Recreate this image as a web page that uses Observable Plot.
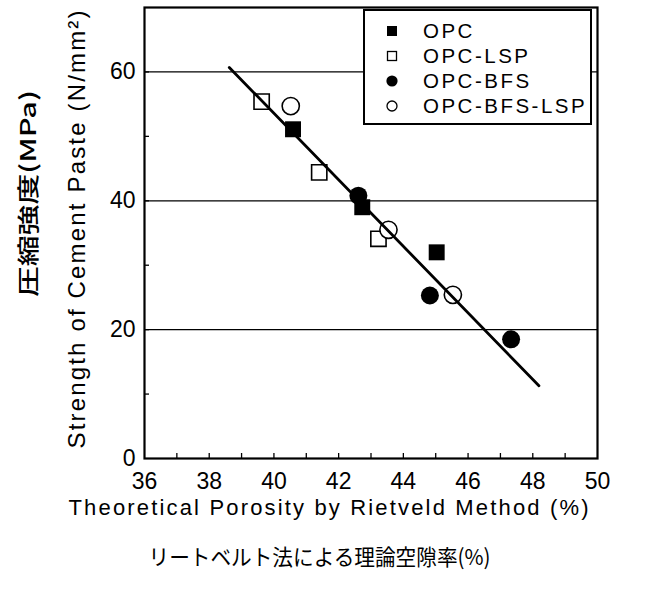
<!DOCTYPE html>
<html><head><meta charset="utf-8">
<script src="https://cdn.jsdelivr.net/npm/d3@7"></script>
<script src="https://cdn.jsdelivr.net/npm/@observablehq/plot@0.6"></script>
<style>
html,body{margin:0;padding:0;background:#fff;}
#chart{position:relative;width:649px;height:590px;}
</style></head><body><div id="chart"></div>
<script>
// ---- data ----
const seriesNames = ["OPC", "OPC-LSP", "OPC-BFS", "OPC-BFS-LSP"];
const opcX = [40.59, 42.73, 45.03];
const opcY = [51.1, 39.0, 32.0];
const lspX = [39.62, 41.40, 43.23];
const lspY = [55.4, 44.4, 34.1];
const bfsX = [42.61, 44.82, 47.33];
const bfsY = [40.8, 25.3, 18.5];
const bfsLspX = [40.52, 43.54, 45.53];
const bfsLspY = [54.7, 35.5, 25.4];
const fitX = [38.62, 48.19];
const fitY = [60.7, 11.3];
const xTickLabels = [36, 38, 40, 42, 44, 46, 48, 50];
const xMinorTicks = [37, 38, 39, 40, 41, 42, 43, 44, 45, 46, 47, 48, 49];
const yTickLabels = [0, 20, 40, 60];
const yMinorTicks = [10, 20, 30, 40, 50, 60];
const gridY = [20, 40, 60];
const xLabelEn = "Theoretical Porosity by Rietveld Method (%)";
const xLabelJa = "リートベルト法による理論空隙率(%)";
const yLabelEn = "Strength of Cement Paste (N/mm²)";
const yLabelJa = "圧縮強度(MPa)";

const rows = (xs, ys, s) => xs.map((x, i) => ({x, y: ys[i], s}));
const opc = rows(opcX, opcY, seriesNames[0]);
const lsp = rows(lspX, lspY, seriesNames[1]);
const bfs = rows(bfsX, bfsY, seriesNames[2]);
const bfsLsp = rows(bfsLspX, bfsLspY, seriesNames[3]);
const fit = rows(fitX, fitY, "fit");

const W = 649, H = 590, ML = 144, MR = 52, MT = 7, MB = 132;
const FW = W - ML - MR, FH = H - MT - MB;
const sans = "'Liberation Sans', Arial, Helvetica, sans-serif";
const cjk = "'Noto Sans CJK JP', 'Noto Sans', sans-serif";

const plot = Plot.plot({
  width: W, height: H,
  marginLeft: ML, marginRight: MR, marginTop: MT, marginBottom: MB,
  style: {fontFamily: sans, color: "black", background: "white", overflow: "visible"},
  x: {domain: [36, 50]},
  y: {domain: [0, 70]},
  marks: [
    Plot.ruleY(gridY, {stroke: "black", strokeWidth: 1.3}),
    Plot.tickX(xMinorTicks, {x: d => d, stroke: "black", strokeWidth: 1.3, insetTop: FH - 5}),
    Plot.tickY(yMinorTicks, {y: d => d, stroke: "black", strokeWidth: 1.3, insetRight: FW - 5}),
    Plot.dot(lsp, {x: "x", y: "y", symbol: "square", r: 8.6, fill: "white", stroke: "black", strokeWidth: 1.6}),
    Plot.dot(bfsLsp, {x: "x", y: "y", symbol: "circle", r: 8.6, fill: "white", stroke: "black", strokeWidth: 1.6}),
    Plot.dot(opc, {x: "x", y: "y", symbol: "square", r: 9, fill: "black", stroke: "none"}),
    Plot.dot(bfs, {x: "x", y: "y", symbol: "circle", r: 9, fill: "black", stroke: "none"}),
    Plot.line(fit, {x: "x", y: "y", stroke: "black", strokeWidth: 2.8}),
    Plot.frame({stroke: "black", strokeWidth: 2.2}),
    Plot.axisX(xTickLabels, {tickSize: 0, tickPadding: 14, fontSize: 23, label: null}),
    Plot.axisY(yTickLabels, {tickSize: 0, tickPadding: 9, fontSize: 23, label: null}),
    Plot.text([xLabelEn], {text: d => d, frameAnchor: "bottom", textAnchor: "middle", dx: -42.5, dy: 56, fontSize: 22, fontFamily: sans}),
    Plot.text([xLabelJa], {text: d => d, frameAnchor: "bottom", textAnchor: "middle", dx: -51.5, dy: 106, fontSize: 22, fontFamily: cjk, fontWeight: 400}),
    Plot.text([yLabelEn], {text: d => d, frameAnchor: "left", textAnchor: "middle", dx: -67, dy: -3.5, rotate: -90, fontSize: 24, fontFamily: sans}),
    Plot.text([yLabelJa], {text: d => d, frameAnchor: "left", textAnchor: "middle", dx: -116, dy: -39.5, rotate: -90, fontSize: 22, fontFamily: cjk, fontWeight: 500})
  ]
});
document.getElementById("chart").appendChild(plot);

// stretch the axis titles to the reference's widths
const svg = d3.select(plot);
const lengths = new Map([
  [xLabelEn, [520, "spacing"]],
  [xLabelJa, [342, "spacingAndGlyphs"]],
  [yLabelEn, [438, "spacing"]],
  [yLabelJa, [207, "spacingAndGlyphs"]]
]);
svg.selectAll("text").each(function () {
  const t = this.textContent;
  if (lengths.has(t)) {
    const [len, mode] = lengths.get(t);
    this.setAttribute("textLength", len);
    this.setAttribute("lengthAdjust", mode);
  }
});

// legend box inside the plot frame
const legendSymbols = [
  {shape: "square", filled: true},
  {shape: "square", filled: false},
  {shape: "circle", filled: true},
  {shape: "circle", filled: false}
];
const lg = svg.append("g").attr("transform", "translate(364,10)");
lg.append("rect").attr("width", 227).attr("height", 114)
  .attr("fill", "white").attr("stroke", "black").attr("stroke-width", 2);
seriesNames.forEach((name, i) => {
  const cy = 21 + i * 25;
  const s = legendSymbols[i];
  if (s.shape === "square") {
    const side = s.filled ? 10 : 9;
    lg.append("rect").attr("x", 28 - side / 2).attr("y", cy - side / 2)
      .attr("width", side).attr("height", side)
      .attr("fill", s.filled ? "black" : "white")
      .attr("stroke", s.filled ? "none" : "black").attr("stroke-width", 1.3);
  } else {
    lg.append("circle").attr("cx", 28).attr("cy", cy).attr("r", s.filled ? 5.6 : 5)
      .attr("fill", s.filled ? "black" : "white")
      .attr("stroke", s.filled ? "none" : "black").attr("stroke-width", 1.3);
  }
  lg.append("text").attr("x", 59).attr("y", cy).attr("dy", "0.35em")
    .attr("text-anchor", "start")
    .attr("font-family", sans).attr("font-size", 20.5)
    .attr("letter-spacing", "2.5px").attr("fill", "black")
    .text(name);
});
</script></body></html>
